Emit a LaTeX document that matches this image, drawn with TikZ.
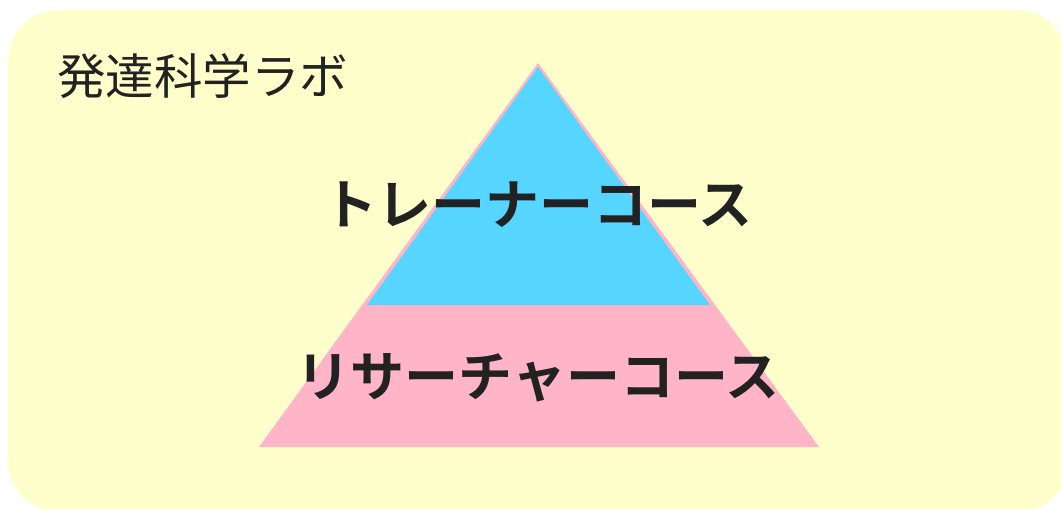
\documentclass[tikz,border=0pt]{standalone}
\usepackage{fontspec}
\newfontfamily\jpfont{Noto Sans CJK JP}
\newfontfamily\jpbold{Noto Sans CJK JP Bold}
\definecolor{bgyellow}{HTML}{FFFFCC}
\definecolor{topblue}{HTML}{55D5FF}
\definecolor{basepink}{HTML}{FFB4C8}
\definecolor{txtdark}{HTML}{222222}
\tikzset{
  coursetext/.style={inner sep=0pt, text=txtdark, font=\jpbold\fontsize{54}{54}\selectfont},
  titletext/.style={inner sep=0pt, text=txtdark, font=\jpfont\fontsize{48.5}{48.5}\selectfont}
}
\begin{document}
\begin{tikzpicture}[x=1pt,y=-1pt]
\useasboundingbox (0,0) rectangle (1061,509);
\clip (0,0) rectangle (1061,509);
\fill[bgyellow, rounded corners=51pt] (8,10) rectangle (1068,512);
% pink base triangle
\fill[basepink] (538,63) -- (819,447) -- (259,447) -- cycle;
% blue top triangle
\fill[topblue] (538,67) -- (710,305) -- (367,305) -- cycle;
\node[titletext, anchor=west] (title) at (57,76) {発達科学ラボ};
\node[coursetext] (trainer) at (538,205) {トレーナーコース};
\node[coursetext] (research) at (538,378) {リサーチャーコース};
\end{tikzpicture}
\end{document}
